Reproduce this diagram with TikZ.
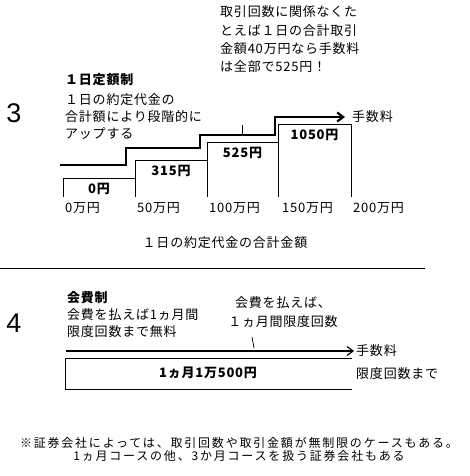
\documentclass[tikz,border=0pt]{standalone}
\usepackage{fontspec}
\setmainfont{Liberation Sans}
\newfontfamily\jp{Noto Sans CJK JP}[LetterSpace=6]
\usepackage{tikz}
\usetikzlibrary{arrows.meta,positioning}

\begin{document}
\begin{tikzpicture}[x=1pt, y=-1pt,
  txt/.style={font=\jp\fontsize{13}{17}\selectfont, inner sep=0pt, align=left},
  val/.style={font=\jp\bfseries\fontsize{13}{15}\selectfont, inner sep=0pt},
  big/.style={font=\fontsize{27}{28}\selectfont, inner sep=0pt},
  stair/.style={line width=2.2pt},
  thin/.style={line width=0.75pt},
  arr/.style={-{Straight Barb[length=6pt, width=9pt]}}
]
\useasboundingbox (0,0) rectangle (469,476);

% 3: daily flat rate
\node[big] (num3) at (14,113) {3};
\node[val, anchor=west] (title3) at (65,80) {１日定額制};
\node[txt, anchor=west] (desc3) at (65,117) {１日の約定代金の\\合計額により段階的に\\アップする};
\node[txt, anchor=west, font=\jp\fontsize{13}{18.3}\selectfont] (note3) at (220,39.5)
  {取引回数に関係なくた\\とえば１日の合計取引\\金額40万円なら手数料\\は全部で525円！};

\coordinate (st0) at (60,165);
\coordinate (st1) at (345,117);
\draw[stair, arr] (st0) -| (126,148) -| (200,135) -| (275,117) -- (st1);
\node[txt, anchor=west] (fee3) at ([xshift=7pt]st1) {手数料};
\coordinate (tick3) at (242,125);
\draw[thin] (tick3) -- ++(0,10);

\foreach \x/\nx/\h/\v [count=\i] in {63/135/178/0円, 135/207/160/315円, 207/278/142/525円, 278/351/124/1050円}{
  \draw[thin] (\x,197) |- (\nx,\h);
  \node[val] (bar\i) at ({(\x+\nx)/2},{\h+10.5}) {\v};
}
\draw[thin] (351,124) -- (351,197);

\foreach \x/\a in {65/0, 137/50, 209/100, 282/150, 353/200}
  \node[txt, anchor=west] (ax\a) at (\x,208) {\a 万円};
\node[txt] (axtitle) at (225,243) {１日の約定代金の合計金額};

\draw[thin] (0,268) -- (425,268);

% 4: membership fee
\node[big] (num4) at (14,323) {4};
\node[val, anchor=west] (title4) at (67,298) {会費制};
\node[txt, anchor=west] (desc4) at (67,323.5) {会費を払えば1ヵ月間\\限度回数まで無料};
\node[txt, align=center, font=\jp\fontsize{13}{19}\selectfont] (note4) at (283,312.5) {会費を払えば、\\１ヵ月間限度回数};
\coordinate (tick4) at (252,337);
\draw[thin] (tick4) -- ++(2,11);

\coordinate (ar0) at (66,351);
\coordinate (ar1) at (354,351);
\draw[arr, line width=1.2pt] (ar0) -- (ar1);
\node[txt, anchor=west] (fee4) at ([xshift=2pt]ar1) {手数料};

\draw[thin] (352,358) -| (65,389) -- (352,389);
\node[val] (plan4) at (208,373) {1ヵ月1万500円};
\node[txt, anchor=west] (limit4) at (356,374) {限度回数まで};

\node[txt, align=center, font=\jp\fontsize{12}{13}\selectfont\addfontfeature{LetterSpace=15}] (foot) at (239,449)
  {※証券会社によっては、取引回数や取引金額が無制限のケースもある。\\1ヵ月コースの他、3か月コースを扱う証券会社もある};
\end{tikzpicture}
\end{document}
